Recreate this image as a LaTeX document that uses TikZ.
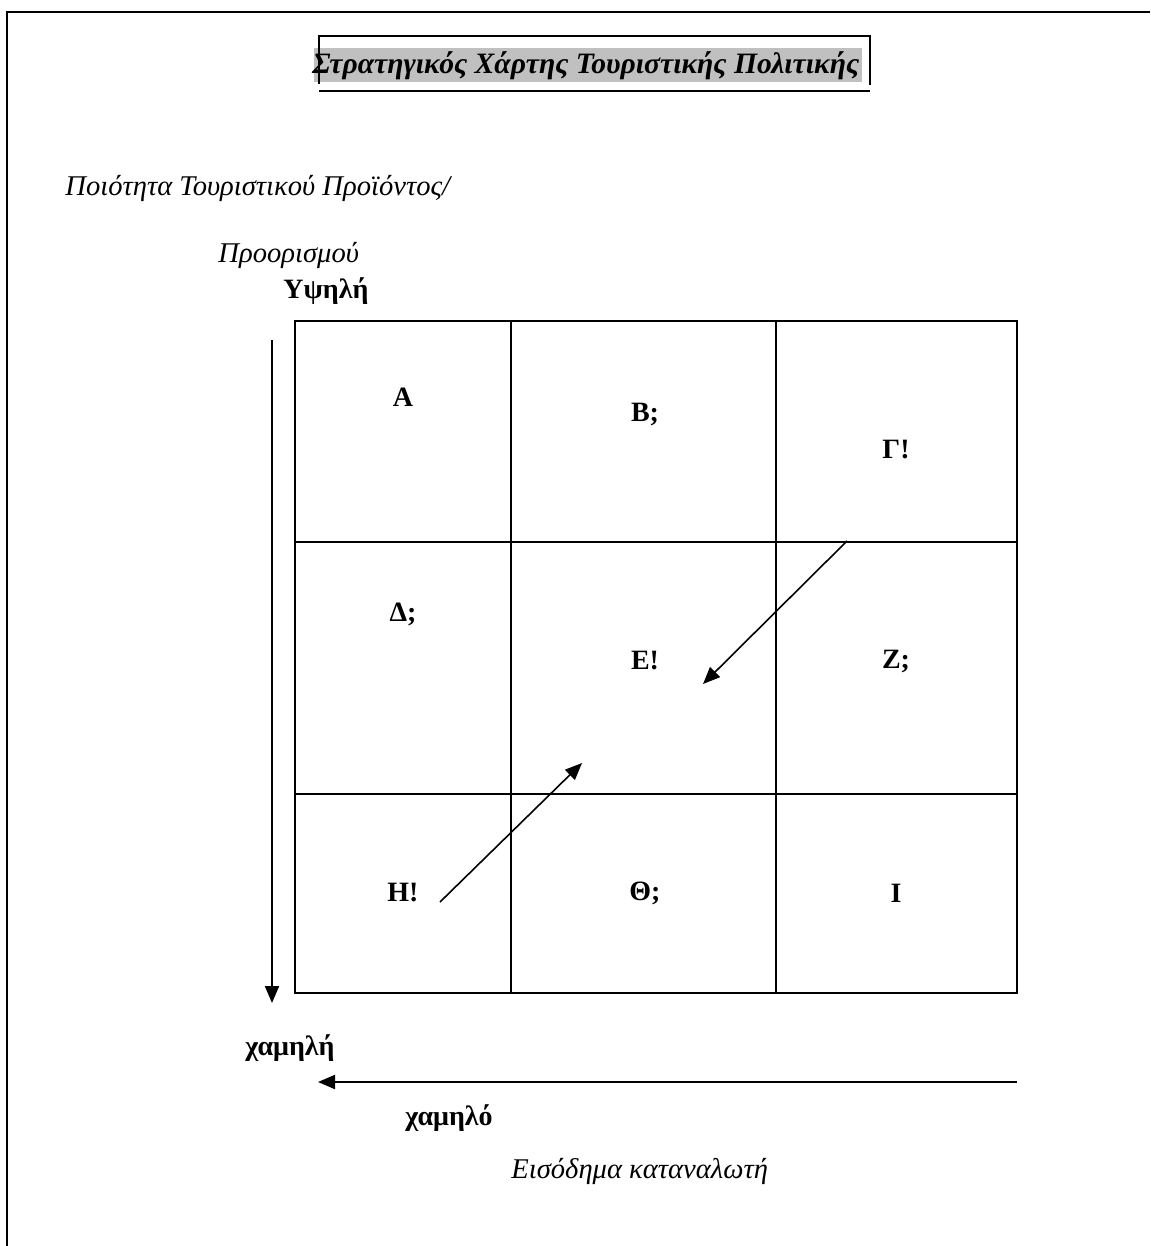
\documentclass[tikz,border=0pt]{standalone}
\usepackage{fontspec}
\setmainfont{Liberation Serif}
\usetikzlibrary{arrows.meta}
\definecolor{hl}{RGB}{192,192,192}
\begin{document}
\begin{tikzpicture}[x=0.5pt,y=-0.5pt,
  frame/.style={line width=1pt},
  gridline/.style={line width=1pt},
  axis/.style={line width=1pt,-{Triangle[length=8.5pt,width=7pt]}},
  diag/.style={line width=0.8pt,-{Triangle[length=8.5pt,width=7pt]}},
  cell/.style={font=\bfseries\fontsize{14}{16}\selectfont, inner sep=0pt},
  itext/.style={font=\itshape\fontsize{14.3}{16}\selectfont, inner sep=0pt, anchor=west},
  btext/.style={font=\bfseries\fontsize{14}{16}\selectfont, inner sep=0pt, anchor=west}]
\useasboundingbox (0,0) rectangle (1150,1246);
% page frame
\draw[frame] (7,1246) -- (7,12) -- (1150,12);
% title
\fill[hl] (314,48) rectangle (862,82);
\node[font=\bfseries\itshape\fontsize{14.8}{17}\selectfont, inner sep=0pt, anchor=west] (title) at (312,66) {Στρατηγικός Χάρτης Τουριστικής Πολιτικής};
\draw[line width=0.8pt] (319,84) -- (319,36) -- (870,36) -- (870,85);
\draw[line width=0.8pt] (319,91) -- (870,91);
% axis labels
\node[itext] (q1) at (65,188) {Ποιότητα Τουριστικού Προϊόντος/};
\node[itext] (q2) at (218,255) {Προορισμού};
\node[btext] (high) at (283,291) {Υψηλή};
\node[btext] (low) at (245,1048) {χαμηλή};
\node[btext] (lowinc) at (405,1118) {χαμηλό};
\node[itext] (inc) at (511,1171) {Εισόδημα καταναλωτή};
% grid
\draw[gridline] (295,321) rectangle (1017,993);
\draw[gridline] (511,321) -- (511,993);
\draw[gridline] (776,321) -- (776,993);
\draw[gridline] (295,542) -- (1017,542);
\draw[gridline] (295,794) -- (1017,794);
% cell labels
\node[cell] (A) at (403,397) {A};
\node[cell] (B) at (645,414) {B;};
\node[cell] (G) at (896,450) {Γ!};
\node[cell] (D) at (403,614) {Δ;};
\node[cell] (E) at (645,661) {E!};
\node[cell] (Z) at (896,661) {Z;};
\node[cell] (H) at (403,893) {H!};
\node[cell] (Th) at (645,893) {Θ;};
\node[cell] (I) at (896,893) {I};
% axes arrows
\coordinate (vtop) at (272,340);
\coordinate (vbot) at (272,1003);
\coordinate (hright) at (1017,1082);
\coordinate (hleft) at (318,1082);
\draw[axis] (vtop) -- (vbot);
\draw[axis] (hright) -- (hleft);
% diagonal arrows
\coordinate (d1s) at (847,541);
\coordinate (d1e) at (703,684);
\coordinate (d2s) at (440,902);
\coordinate (d2e) at (582,763);
\draw[diag] (d1s) -- (d1e);
\draw[diag] (d2s) -- (d2e);
\end{tikzpicture}
\end{document}
